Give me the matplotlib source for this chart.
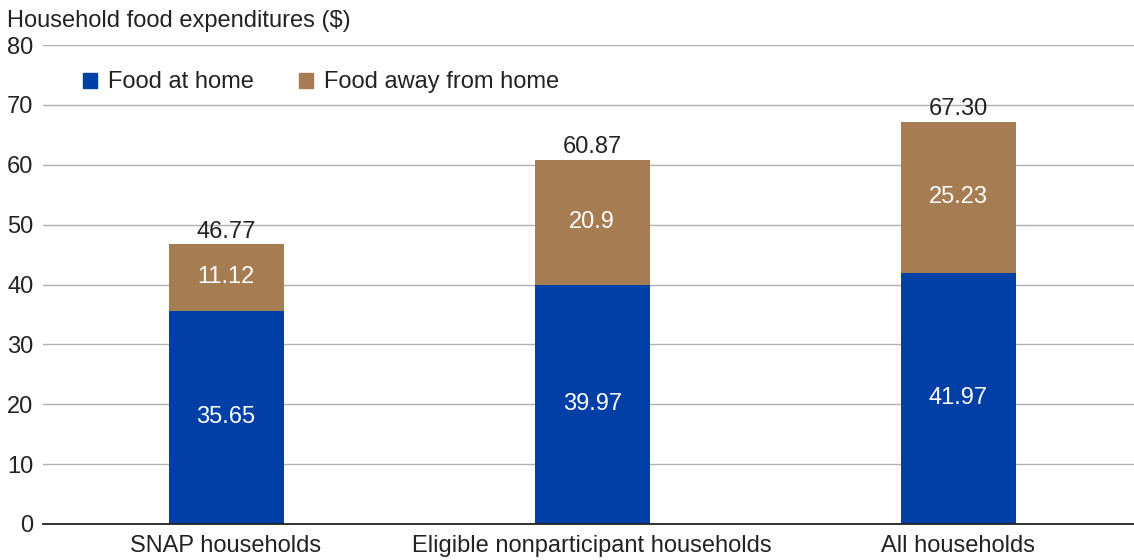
import matplotlib
matplotlib.use("Agg")
import matplotlib.pyplot as plt
from matplotlib.patches import Patch

categories = ["SNAP households", "Eligible nonparticipant households", "All households"]
food_home = [35.65, 39.97, 41.97]
food_away = [11.12, 20.9, 25.23]
home_labels = ["35.65", "39.97", "41.97"]
away_labels = ["11.12", "20.9", "25.23"]
total_labels = ["46.77", "60.87", "67.30"]
yticks = [0, 10, 20, 30, 40, 50, 60, 70, 80]

plt.rcParams['font.family'] = ['Liberation Sans', 'DejaVu Sans']
blue = "#0040a6"
brown = "#a67c52"
txt = "#222222"
fs = 17

fig = plt.figure(figsize=(11.34, 5.6), dpi=100)
ax = fig.add_axes([43/1134, 1-524/560, 1-43/1134, (524-45)/560])

x = list(range(len(categories)))
w = 0.314
ax.bar(x, food_home, width=w, color=blue, zorder=3)
ax.bar(x, food_away, width=w, bottom=food_home, color=brown, zorder=3)

for i in x:
    ax.text(i, food_home[i]/2, home_labels[i], ha='center', va='center', color='white', fontsize=fs, zorder=4)
    ax.text(i, food_home[i] + food_away[i]/2, away_labels[i], ha='center', va='center', color='white', fontsize=fs, zorder=4)
    ax.text(i, food_home[i] + food_away[i] + 0.2, total_labels[i], ha='center', va='bottom', color=txt, fontsize=fs, zorder=4)

ax.set_xlim(-0.5, 2.48)
ax.set_ylim(0, 80)
ax.set_yticks(yticks)
ax.set_yticklabels([str(v) for v in yticks], fontsize=fs, color=txt)
ax.set_xticks(x)
ax.set_xticklabels(categories, fontsize=fs, color=txt)
ax.tick_params(axis='both', length=0)
ax.tick_params(axis='x', pad=8)
ax.tick_params(axis='y', pad=7)
ax.yaxis.grid(True, color='#b0b0b0', linewidth=1.0, zorder=0)
for s in ['top', 'right', 'left']:
    ax.spines[s].set_visible(False)
ax.spines['bottom'].set_color('#222222')
ax.spines['bottom'].set_linewidth(1.3)
ax.spines['bottom'].set_zorder(5)

fig.text(7/1134, 1-21/560, "Household food expenditures ($)", fontsize=fs, color=txt, va='center', ha='left')

handles = [Patch(color=blue, label="Food at home"), Patch(color=brown, label="Food away from home")]
ax.legend(handles=handles, loc='center left', bbox_to_anchor=(0.0367, 0.922), ncol=2, frameon=False,
          fontsize=fs, handlelength=0.6, handleheight=0.6, handletextpad=0.47, columnspacing=1.9,
          labelcolor=txt, borderpad=0, borderaxespad=0)

fig.savefig("out.png", dpi=100)
